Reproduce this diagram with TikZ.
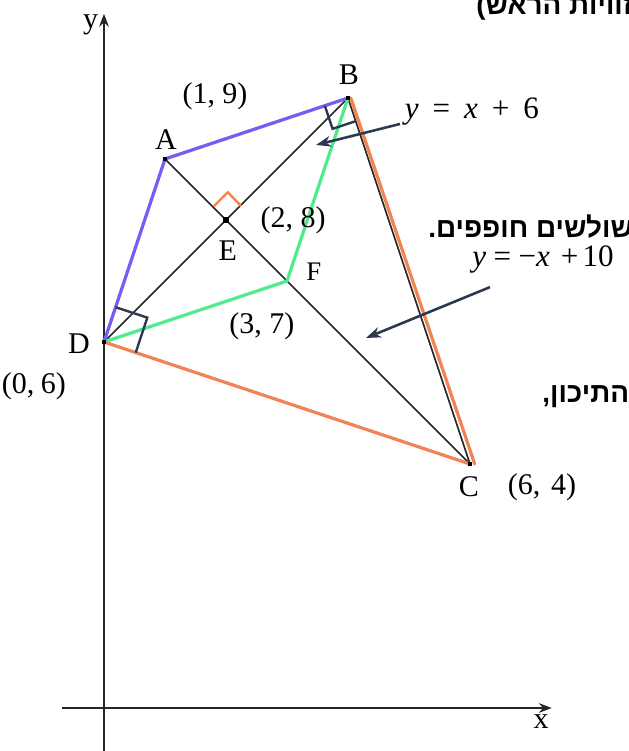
\documentclass[tikz,border=0pt]{standalone}
\usepackage{fontspec}
\setmainfont{Liberation Serif}
\newfontfamily\hebfont[Script=Hebrew]{Liberation Sans}
\TeXXeTstate=1
\usetikzlibrary{arrows.meta}
\definecolor{kblue}{RGB}{122,92,242}
\definecolor{kgreen}{RGB}{82,232,142}
\definecolor{korange}{RGB}{240,132,82}
\definecolor{knavy}{RGB}{44,56,82}
\begin{document}
\begin{tikzpicture}[x=1cm,y=1cm,
  lbl/.style={font=\fontsize{14}{16}\selectfont, inner sep=0pt},
  smalllbl/.style={font=\fontsize{12.5}{14}\selectfont, inner sep=0pt},
  eqlbl/.style={font=\fontsize{14.5}{16}\selectfont, inner sep=0pt},
  heb/.style={font=\fontsize{13}{15}\selectfont\hebfont\bfseries, inner sep=0pt, anchor=base west},
  thinline/.style={line width=0.75pt, black!85},
  side/.style={line width=1.5pt, line cap=round},
  pointer/.style={knavy, line width=1.2pt, -{Stealth[length=7pt,width=5pt]}},
  axis/.style={line width=0.9pt, black!85, -{Stealth[length=6pt,width=4.5pt]}},
  ptmark/.style={fill=black, inner sep=0pt, minimum size=2pt},
  rmark/.style={knavy, line width=1.1pt},
  emark/.style={korange, line width=1.1pt}
]
\useasboundingbox (-1.7049,-0.7049) rectangle (8.6066,11.6066);
\clip (-1.7049,-0.7049) rectangle (8.6066,11.6066);

% points
\coordinate (A) at (1,9);
\coordinate (B) at (4,10);
\coordinate (C) at (6,4);
\coordinate (D) at (0,6);
\coordinate (E) at (2,8);
\coordinate (F) at (3,7);

% axes
\coordinate (ybot) at (0,-0.75);
\coordinate (ytop) at (0,11.38);
\coordinate (xl) at (-0.69,0);
\coordinate (xr) at (7.34,0);
\draw[axis] (ybot) -- (ytop);
\draw[axis] (xl) -- (xr);

% black lines
\draw[thinline] (A) -- (C);
\draw[thinline] (B) -- (D);
\draw[thinline] (B) -- (C);

% coloured sides
\draw[side,kblue] (D) -- (A) -- (B);
\draw[side,kgreen] (B) -- (F) -- (D);
\draw[side,korange] (D) -- (C);
\draw[side,korange] ([xshift=1.3pt]B) -- ([xshift=2.2pt]C);

% right angle marks
\coordinate (b1) at (3.620,9.874);
\coordinate (b2) at (3.747,9.494);
\coordinate (b3) at (4.126,9.620);
\draw[rmark] (b1) -- (b2) -- (b3);
\coordinate (d1) at (0.19,6.57);
\coordinate (d2) at (0.71,6.40);
\coordinate (d3) at (0.52,5.826);
\draw[rmark] (d1) -- (d2) -- (d3);
\coordinate (e1) at (1.80,8.226);
\coordinate (e2) at (2.03,8.455);
\coordinate (e3) at (2.25,8.226);
\draw[emark] (e1) -- (e2) -- (e3);

% point marks
\node[ptmark] (mA) at (A) {};
\node[ptmark] (mB) at (B) {};
\node[ptmark] (mC) at (C) {};
\node[ptmark] (mD) at (D) {};
\node[ptmark, minimum size=3.2pt] (mE) at (E) {};

% pointers
\coordinate (p1s) at (4.852,9.574);
\coordinate (p1e) at (3.475,9.23);
\coordinate (p2s) at (6.328,6.9);
\coordinate (p2e) at (4.295,6.066);
\draw[pointer] (p1s) -- (p1e);
\draw[pointer] (p2s) -- (p2e);

% labels
\node[lbl] (ly) at (-0.22,11.2) {y};
\node[lbl] (lx) at (7.164,-0.23) {x};
\node[lbl] (lB) at (4.016,10.38) {B};
\node[lbl] (lA) at (1.016,9.31) {A};
\node[lbl] (cA) at (1.82,10.02) {(1, 9)};
\node[lbl] (lE) at (2.03,7.5) {E};
\node[lbl] (cE) at (3.1,8.0) {(2, 8)};
\node[smalllbl] (lF) at (3.44,7.15) {F};
\node[lbl] (cF) at (2.59,6.25) {(3, 7)};
\node[lbl] (lD) at (-0.41,5.98) {D};
\node[lbl] (cD) at (-1.15,5.28) {(0,\hspace{3pt}6)};
\node[lbl] (lC) at (5.98,3.62) {C};
\node[lbl] (cC) at (7.18,3.62) {(6,\hspace{5pt}4)};
\node[eqlbl] (eq1) at (6.03,9.77) {\textit{y}\hspace{6.5pt}=\hspace{6.5pt}\textit{x}\hspace{6.5pt}+\hspace{6.5pt}6};
\node[eqlbl] (eq2) at (7.197,7.344) {\textit{y}\hspace{3.5pt}=\hspace{3.5pt}−\textit{x}\hspace{5pt}+\hspace{2pt}10};

% hebrew text (clipped at the picture edges)
\node[heb] (h1) at (6.098,11.37) {\beginR זוויות הראש)\endR};
\node[heb] (h2) at (5.311,7.705) {\beginR שולשים חופפים.\endR};
\node[heb] (h3) at (7.18,5.016) {\beginR התיכון,\endR};
\end{tikzpicture}
\end{document}
